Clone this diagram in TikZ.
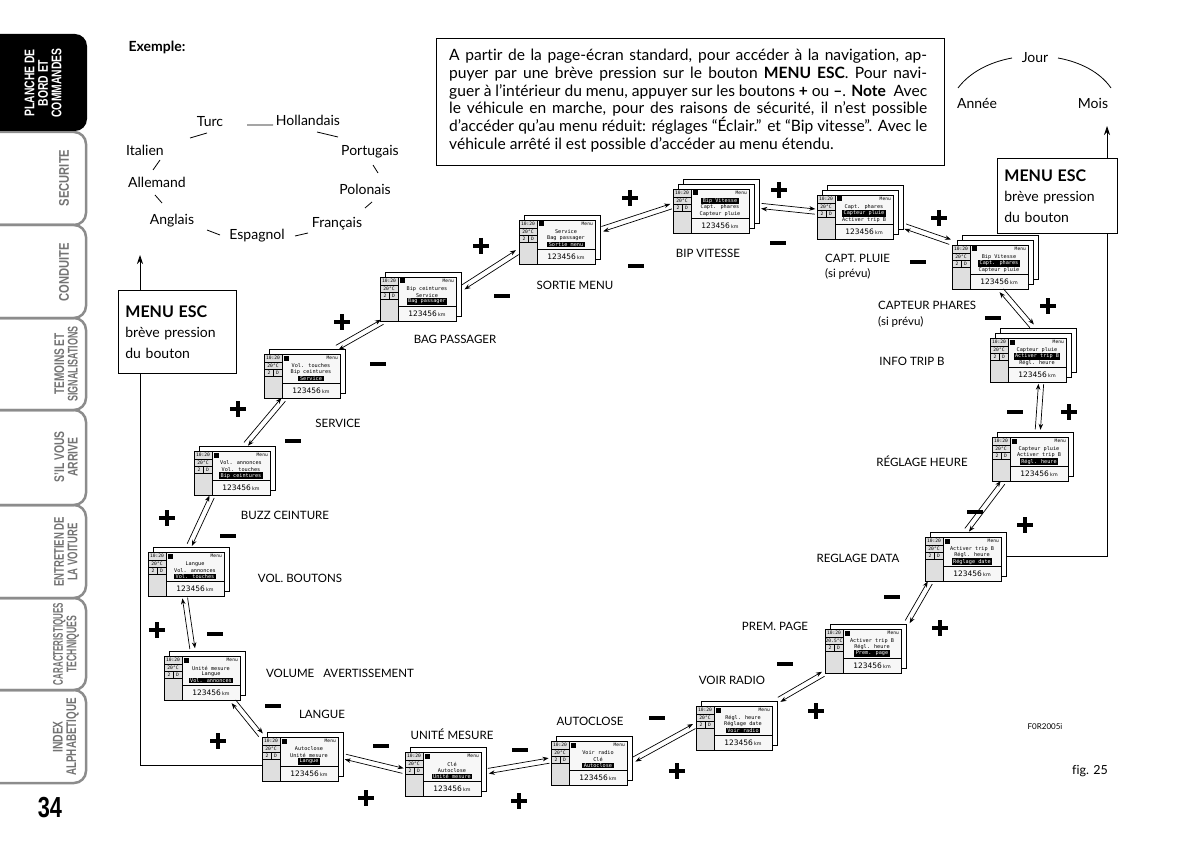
\documentclass[tikz,border=0pt]{standalone}
\usepackage{fontspec}
\setmainfont{Lato}[Ligatures=NoCommon]
\newfontfamily\scrfont{DejaVu Sans Mono}
\newfontfamily\kmfont{DejaVu Sans}
\newfontfamily\tabfont{Liberation Sans}
\usetikzlibrary{calc,arrows.meta}

\newcommand\hlt[1]{{\setlength\fboxsep{0.7pt}\colorbox{black}{\,\textcolor{white}{#1}\,}}}
\newcommand\sx[2][0.68]{\scalebox{#1}[1]{#2}}

% screen: name, x, y (front top-left), layers, line1, line2, line3, temperature
\newcommand\scr[8]{%
 \begin{scope}[shift={(#2,#3)}]
  \foreach \k in {#4,...,2}{\pgfmathsetmacro\oo{5*(\k-1)}\draw[scrline,fill=white] (\oo,-\oo) rectangle ++(76,44);}
  \fill[gray!6] (0,0) rectangle (76,44);
  \fill[gray!25] (0,0) rectangle (18,44);
  \draw[line width=0.4pt] (18,0) -- (18,44) (0,8) -- (18,8) (0,15) -- (18,15) (0,22) -- (18,22) (9.5,15) -- (9.5,22) (18,29) -- (76,29);
  \draw[scrline] (0,0) rectangle (76,44);
  \fill (20,1.5) rectangle (24.5,6.5);
  \node[st] (#1h) at (9,4.3) {10:20};
  \node[st,anchor=east] (#1m) at (74,4.3) {Menu};
  \node[st] (#1c) at (9,11.6) {#8};
  \node[st] (#1g) at (5,18.6) {2};
  \node[st] (#1r) at (13.5,18.6) {D};
  \node[sm] (#1a) at (47,12) {#5};
  \node[sm] (#1b) at (47,18.3) {#6};
  \node[sm] (#1d) at (47,24.6) {#7};
  \node[km] (#1k) at (47,36.5) {123456\,{\fontsize{4.8}{5}\selectfont km}};
 \end{scope}
 \node[minimum width={(76+5*(#4-1))*1pt}, minimum height={(44+5*(#4-1))*1pt}, anchor=south west] (#1) at (#2,#3+44) {};
}

\newcommand\conn[2]{%
 \draw[conn] ($(#1)!2.6pt!90:(#2)$) -- ($(#2)!2.6pt!-90:(#1)$);
 \draw[conn] ($(#2)!2.6pt!90:(#1)$) -- ($(#1)!2.6pt!-90:(#2)$);}

\newcommand\plusS[2]{\draw[sign] (#1,#2) ++(-8,0) -- ++(16,0) (#1,#2) ++(0,-8) -- ++(0,16);}
\newcommand\minusS[2]{\draw[sign] (#1,#2) ++(-8,0) -- ++(16,0);}

\begin{document}
\begin{tikzpicture}[x=1pt,y=-1pt,
 every node/.style={inner sep=0pt},
 scrline/.style={line width=0.6pt},
 st/.style={font=\scrfont\fontsize{4.6}{5}\selectfont},
 sm/.style={font=\scrfont\fontsize{5.2}{6}\selectfont},
 km/.style={font=\kmfont\fontsize{7.5}{8}\selectfont},
 lbl/.style={font=\fontsize{11.5}{13}\selectfont},
 lang/.style={font=\fontsize{14}{16}\selectfont},
 conn/.style={line width=0.7pt,-{Stealth[length=6pt,width=4.5pt]},shorten >=2pt,shorten <=2pt},
 sign/.style={line width=3.6pt},
 esc/.style={line width=0.8pt,-{Stealth[length=9pt,width=6pt]}},
 escbox/.style={draw,line width=0.8pt,fill=white,anchor=north west,align=left,inner xsep=7pt,font=\fontsize{14}{20.5}\selectfont},
 tabline/.style={draw=black!45,line width=2.5pt,rounded corners=12pt},
 tabtxt/.style={rotate=90,align=center,font=\tabfont\bfseries\fontsize{14}{13.5}\selectfont,text=black!55},
 para/.style={anchor=base west,font=\fontsize{15.6}{17.8}\selectfont}
]
\useasboundingbox (0,0) rectangle (1200,845);

% ---------- side tabs ----------
\foreach \a/\b in {132/225,225/318,318/410,410/505,505/598,598/690,690/783}
  \draw[tabline] (-15,\a) rectangle (86,\b);
\fill[black,rounded corners=12pt] (-15,34) rectangle (87,131);
\node[tabtxt,text=white] (tab1) at (43,83) {\sx[0.74]{PLANCHE DE}\\\sx[0.74]{BORD ET}\\\sx[0.74]{COMMANDES}};
\node[tabtxt] (tab2) at (64,178) {\sx[0.8]{SECURITE}};
\node[tabtxt] (tab3) at (64,272) {\sx[0.8]{CONDUITE}};
\node[tabtxt] (tab4) at (66,364) {\sx[0.72]{TEMOINS ET}\\\sx[0.64]{SIGNALISATIONS}};
\node[tabtxt] (tab5) at (66,457) {\sx[0.74]{S’IL VOUS}\\\sx[0.74]{ARRIVE}};
\node[tabtxt] (tab6) at (66,552) {\sx[0.68]{ENTRETIEN DE}\\\sx[0.68]{LA VOITURE}};
\node[tabtxt] (tab7) at (66,644) {\sx[0.57]{CARACTERISTIQUES}\\\sx[0.62]{TECHNIQUES}};
\node[tabtxt] (tab8) at (66,737) {\sx[0.74]{INDEX}\\\sx[0.7]{ALPHABETIQUE}};
\node[font=\tabfont\bfseries\fontsize{29}{30}\selectfont] (pg) at (50,808) {\scalebox{0.75}[1]{34}};

% ---------- header ----------
\node[font=\bfseries\fontsize{14}{16}\selectfont] (ex) at (157,47) {Exemple:};
\draw[line width=0.8pt] (436,38) rectangle (944,165);
\node[para] (t1) at (449,61) {\makebox[478pt][s]{A partir de la page-écran standard, pour accéder à la navigation, ap-}};
\node[para] (t2) at (449,79) {\makebox[478pt][s]{puyer par une brève pression sur le bouton \textbf{MENU ESC}. Pour navi-}};
\node[para] (t3) at (449,96.5) {\makebox[478pt][s]{guer à l’intérieur du menu, appuyer sur les boutons \textbf{+} ou \textbf{–}. \textbf{Note}\ \ Avec}};
\node[para] (t4) at (449,114) {\makebox[478pt][s]{le véhicule en marche, pour des raisons de sécurité, il n’est possible}};
\node[para] (t5) at (449,132) {\makebox[478pt][s]{d’accéder qu’au menu réduit: réglages “Éclair.” et “Bip vitesse”. Avec le}};
\node[para] (t6) at (449,150) {véhicule arrêté il est possible d’accéder au menu étendu.};

% ---------- languages ----------
\node[lang] (Turc) at (210,122) {Turc};
\node[lang] (Holl) at (308,120) {Hollandais};
\node[lang] (Port) at (370,152) {Portugais};
\node[lang] (Pol) at (365,189) {Polonais};
\node[lang] (Fr) at (337,224) {Français};
\node[lang] (Esp) at (257,236) {Espagnol};
\node[lang] (Angl) at (172,221) {Anglais};
\node[lang] (Allem) at (157,182) {Allemand};
\node[lang] (Ital) at (145,150) {Italien};
\draw[line width=0.8pt] (247,125) -- (273,125) (190,138) -- (207,133) (317,132) -- (338,137)
  (373,165) -- (378,173) (372,202) -- (365,208) (295,236) -- (308,233) (207,230) -- (220,235)
  (155,195) -- (162,203) (153,170) -- (160,160);

% ---------- jour / mois / annee ----------
\node[lang] (Jour) at (1035,58) {Jour};
\node[lang] (Annee) at (977,103) {Année};
\node[lang] (Mois) at (1093,103) {Mois};
\draw[line width=0.8pt] (958,88) .. controls (970,72) and (990,62) .. (1012,58);
\draw[line width=0.8pt] (1058,58) .. controls (1080,62) and (1100,72) .. (1111,88);

% ---------- screens ----------
\scr{BV}{673}{189}{3}{\hlt{Bip Vitesse}}{Capt. phares}{Capteur pluie}{20°C}
\scr{CP}{817}{195}{3}{Capt. phares}{\hlt{Capteur pluie}}{Activer trip B}{20°C}
\scr{CF}{952}{245}{3}{Bip Vitesse}{\hlt{Capt. phares}}{Capteur pluie}{20°C}
\scr{IT}{990}{338}{3}{Capteur pluie}{\hlt{Activer trip B}}{Régl. heure}{20°C}
\scr{RH}{992}{437}{2}{Capteur pluie}{Activer trip B}{\hlt{Régl. heure}}{20°C}
\scr{RD}{925}{537}{2}{Activer trip B}{Régl. heure}{\hlt{Réglage date}}{20°C}
\scr{PP}{825}{629}{2}{Activer trip B}{Régl. heure}{\hlt{Prem. page}}{20.5°C}
\scr{VR}{696}{706}{2}{Régl. heure}{Réglage date}{\hlt{Voir radio}}{20°C}
\scr{AC}{551}{741}{2}{Voir radio}{Clé}{\hlt{Autoclose}}{20°C}
\scr{UM}{405}{752}{2}{Clé}{Autoclose}{\hlt{Unité mesure}}{20°C}
\scr{L}{262}{737}{2}{Autoclose}{Unité mesure}{\hlt{Langue}}{20°C}
\scr{VA}{164}{656}{2}{Unité mesure}{Langue}{\hlt{Vol. annonces}}{20°C}
\scr{VB}{148}{552}{2}{Langue}{Vol. annonces}{\hlt{Vol. touches}}{20°C}
\scr{BZ}{194}{451}{2}{Vol. annonces}{Vol. touches}{\hlt{Bip ceintures}}{20°C}
\scr{SV}{264}{354}{2}{Vol. touches}{Bip ceintures}{\hlt{Service}}{20°C}
\scr{BG}{380}{277}{2}{Bip ceintures}{Service}{\hlt{Bag passager}}{20°C}
\scr{SM}{519}{220}{2}{Service}{Bag passager}{\hlt{Sortie menu}}{20°C}

% ---------- labels ----------
\node[lbl] (lL) at (322,714) {LANGUE};
\node[lbl] (lUM) at (452,734) {UNITÉ MESURE};
\node[lbl] (lAC) at (590,721) {AUTOCLOSE};
\node[lbl] (lVR) at (732,680) {VOIR RADIO};
\node[lbl] (lPP) at (775,626) {PREM. PAGE};
\node[lbl] (lRD) at (858,558) {REGLAGE DATA};
\node[lbl] (lRH) at (922,461) {RÉGLAGE HEURE};
\node[lbl] (lIT) at (912,361) {INFO TRIP B};
\node[lbl,anchor=west] (lCF) at (878,305) {CAPTEUR PHARES};
\node[lbl,anchor=west] (lCF2) at (878,322) {(si prévu)};
\node[lbl,anchor=west] (lCP) at (825,258) {CAPT. PLUIE};
\node[lbl,anchor=west] (lCP2) at (825,274) {(si prévu)};
\node[lbl] (lBV) at (708,253) {BIP VITESSE};
\node[lbl] (lSM) at (575,285) {SORTIE MENU};
\node[lbl] (lBG) at (455,339) {BAG PASSAGER};
\node[lbl] (lSV) at (338,423) {SERVICE};
\node[lbl] (lBZ) at (285,515) {BUZZ CEINTURE};
\node[lbl] (lVB) at (300,578) {VOL. BOUTONS};
\node[lbl] (lVA) at (340,673) {VOLUME\hspace{9pt}AVERTISSEMENT};

% ---------- connectors ----------
\conn{L.east}{UM.west}
\conn{UM.east}{AC.west}
\conn{AC.east}{VR.west}
\conn{VR.north east}{PP.south west}
\conn{PP.north east}{[xshift=6pt]RD.south west}
\conn{RD.north}{[xshift=12pt]RH.south west}
\conn{[xshift=5pt]RH.north}{[xshift=8pt]IT.south}
\conn{IT.north}{[xshift=5pt]CF.south}
\conn{[yshift=-8pt]CF.north west}{[yshift=-14pt]CP.east}
\conn{CP.west}{BV.east}
\conn{BV.west}{[yshift=-15pt]SM.north east}
\conn{[yshift=-12pt]SM.west}{[yshift=8pt]BG.east}
\conn{[xshift=4pt]BG.south west}{[xshift=-10pt]SV.north east}
\conn{[xshift=10pt]BZ.north}{[xshift=-20pt]SV.south}
\conn{VB.north}{[xshift=-22pt]BZ.south}
\conn{[xshift=-4pt]VB.south}{[xshift=-12pt]VA.north}
\conn{[xshift=-13pt]VA.south east}{[yshift=-5pt]L.north west}

% ---------- signs ----------
\plusS{630}{198}\minusS{636}{266}
\plusS{481}{246}\minusS{502}{296}
\plusS{342}{322}\minusS{378}{364}
\plusS{238}{409}\minusS{293}{441}
\plusS{167}{518}\minusS{228}{536}
\plusS{157}{630}\minusS{215}{634}
\minusS{273}{706}\plusS{218}{741}
\minusS{381}{746}\plusS{366}{798}
\minusS{520}{750}\plusS{519}{801}
\minusS{657}{718}\plusS{677}{771}
\minusS{785}{664}\plusS{816}{711}
\minusS{892}{597}\plusS{940}{628}
\minusS{975}{512}\plusS{1025}{525}
\minusS{1015}{412}\plusS{1069}{412}
\minusS{993}{318}\plusS{1048}{306}
\minusS{918}{262}\plusS{939}{218}
\plusS{779}{190}\minusS{778}{243}

% ---------- MENU ESC ----------
\coordinate (escL) at (140,255);
\coordinate (escR) at (1107,126);
\draw[esc] ([yshift=-9pt]L.west) -| (escL);
\draw[esc] (RD.east) -| (escR);
\node[escbox,minimum width=118pt,minimum height=83pt,text width=104pt] (menuL) at (118,290)
  {{\bfseries\fontsize{16}{20.5}\selectfont MENU ESC}\\brève pression\\du bouton};
\node[escbox,minimum width=120pt,minimum height=75pt,text width=106pt] (menuR) at (997,158)
  {{\bfseries\fontsize{16}{20.5}\selectfont MENU ESC}\\brève pression\\du bouton};

% ---------- figure refs ----------
\node[font=\fontsize{8}{9}\selectfont] (code) at (1045,727) {F0R2005i};
\node[font=\fontsize{12.5}{14}\selectfont] (fig) at (1090,771) {fig. 25};
\end{tikzpicture}
\end{document}
